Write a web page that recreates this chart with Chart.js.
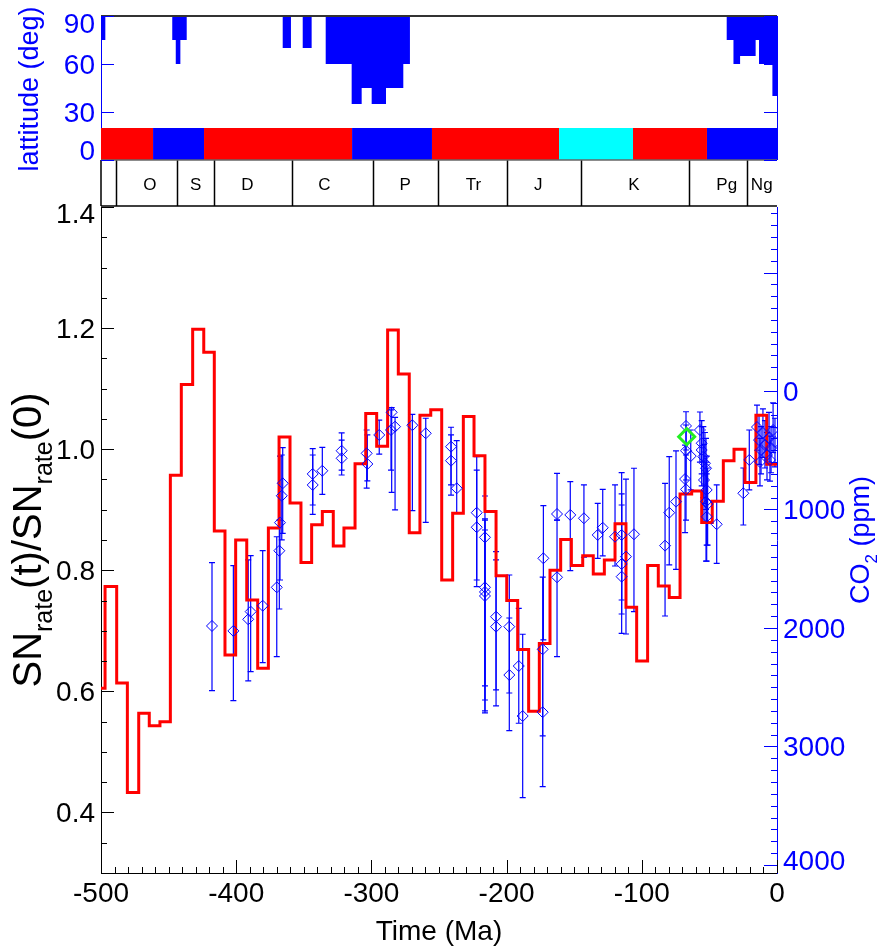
<!DOCTYPE html>
<html>
<head>
<meta charset="utf-8">
<title>SN rate and CO2</title>
<script src="https://cdn.jsdelivr.net/npm/chart.js@4.4.1/dist/chart.umd.min.js"></script>
<style>
  html, body { margin: 0; padding: 0; background: #fff; }
  #wrap { position: relative; width: 887px; height: 949px; overflow: hidden; }
  #mainChart { position: absolute; left: 0; top: 0; }
  #latChart { position: absolute; left: 0; top: -10px; }
</style>
</head>
<body>
<div id="wrap">
  <canvas id="mainChart" width="887" height="949"></canvas>
  <canvas id="latChart" width="887" height="217"></canvas>
</div>
<script>
// ---- data ----

// supernova rate ratio, step function (value holds from each time until the next)
const snTime = [-500, -497, -488.4, -480.5, -472.1, -464.3, -456.4, -448.7, -440.6, -432.2,
  -424.0, -416.2, -408.3, -400.4, -392.2, -384.1, -376.2, -368.3, -360.2, -352.1,
  -344.2, -336.3, -328.2, -320.3, -312.1, -304.2, -296.1, -288.0, -280.1, -272.0,
  -264.1, -256.1, -248.0, -239.9, -232.0, -224.1, -216.0, -207.8, -199.9, -191.8,
  -183.7, -175.8, -167.9, -160.0, -152.1, -143.7, -135.9, -127.7, -119.8, -111.7,
  -103.8, -95.7, -87.8, -79.7, -71.7, -63.1, -55.7, -47.9, -39.7, -31.8,
  -23.7, -15.6, -7.6, 0];
const snRate = [0.605, 0.773, 0.614, 0.433, 0.564, 0.543, 0.550, 0.957, 1.107, 1.198,
  1.160, 0.865, 0.660, 0.850, 0.751, 0.638, 0.870, 1.020, 0.911, 0.813,
  0.875, 0.897, 0.840, 0.870, 0.976, 1.059, 1.005, 1.197, 1.124, 0.862,
  1.056, 1.065, 0.784, 0.894, 1.054, 0.989, 0.897, 0.791, 0.750, 0.669,
  0.567, 0.679, 0.800, 0.851, 0.808, 0.824, 0.794, 0.817, 0.877, 0.739,
  0.650, 0.808, 0.774, 0.755, 0.926, 0.931, 0.879, 0.914, 0.981, 1.000,
  0.945, 1.056, 0.975, 0.975];

// CO2 proxy points (ppm) with error ranges
const co2Time = [-417.9, -402.1, -391.1, -389.3, -380.4, -370.0, -368.1, -367.6, -366.3, -365.6,
  -343.4, -343.4, -336.3, -322.0, -322.0, -303.5, -303.0, -294.2, -285.0, -285.5,
  -282.5, -269.7, -259.8, -241.1, -241.1, -236.9, -222.1, -222.1, -216.0, -216.0,
  -216.0, -216.0, -207.8, -207.8, -198.0, -198.0, -191.0, -188.1, -172.8, -173.3,
  -173.3, -162.7, -162.7, -152.9, -142.8, -132.6, -128.9, -119.8, -114.9, -114.9,
  -114.9, -111.7, -105.8, -82.8, -79.7, -74.7, -67.3, -67.3, -68.0, -67.3,
  -63.8, -57.0, -55.7, -54.5, -52.5, -54.0, -52.0, -52.5, -52.0, -55.7,
  -53.3, -51.3, -44.6, -24.9, -20.5, -14.8, -13.3, -11.8, -10.4, -8.9,
  -7.4, -5.9, -4.4, -2.9, -1.5, -5.2, -12.6];
const co2Value = [1983, 2025, 1927, 1862, 1812, 1657, 1348, 1111, 884, 779,
  700, 793, 673, 504, 568, 526, 616, 371, 180, 329,
  301, 289, 357, 470, 588, 821, 1027, 1150, 1235, 1657,
  1696, 1730, 1905, 1989, 1989, 2397, 2321, 2743, 1412, 2180,
  2711, 1038, 1572, 1046, 1074, 1215, 1154, 1230, 1215, 1460,
  1567, 1398, 1209, 1305, 1027, 934, 295, 504, 743, 830,
  549, 329, 441, 554, 652, 751, 835, 934, 1061, 498,
  610, 954, 1125, 863, 582, 304, 414, 498, 354, 456,
  540, 397, 481, 329, 430, 582, 599];
const co2Low = [1449, 1474, 1426, 1390, 1348, 1230, 1089, 549, 540, 478,
  487, 540, 475, 354, 414, 329, 371, 245, 141, 160,
  222, 197, 230, 306, 371, 419, 554, 667, 886, 1080,
  1173, 1089, 1356, 1426, 1553, 1916, 1834, 2053, 968, 1570,
  2127, 695, 1089, 765, 793, 948, 830, 793, 689, 869,
  962, 743, 652, 779, 554, 506, 175, 287, 456, 540,
  329, 177, 250, 300, 400, 450, 550, 600, 700, 300,
  350, 650, 793, 650, 329, 120, 200, 300, 150, 250,
  350, 180, 300, 100, 230, 380, 400];
const co2High = [2529, 2614, 2447, 2369, 2293, 2242, 1840, 1595, 1257, 1201,
  1041, 962, 872, 709, 667, 819, 759, 532, 855, 667,
  1004, 1010, 1108, 878, 793, 1032, 1651, 1595, 2717, 2489,
  2700, 2608, 2658, 2523, 2867, 2549, 2804, 3432, 2101, 2911,
  3339, 1089, 2242, 1516, 1403, 1412, 1392, 1477, 1764, 1882,
  2045, 2051, 1862, 1899, 1468, 1505, 498, 751, 1196, 1089,
  835, 600, 700, 900, 1000, 1100, 1300, 1435, 1435, 800,
  950, 1300, 1454, 1131, 835, 500, 620, 700, 560, 650,
  750, 600, 690, 520, 640, 760, 800];
const greenTime = [-66.8];
const greenCo2 = [386];

// polar ice extent: latitude reached, held from each time until the next (90 = none)
const iceTime = [-500, -496.8, -447.3, -444.7, -441.3, -436.6, -365.6, -359.5, -350.8, -344.2,
  -333.8, -314.6, -307.2, -299.8, -289.2, -276.4, -271.5, -37.2, -32.2, -27.3,
  -15.8, -13.3, -3.4, 0];
const iceLat = [75, 90, 75, 60, 75, 90, 70, 90, 70, 90,
  60, 35, 45, 35, 45, 60, 90, 75, 60, 65,
  75, 60, 40, 40];

// climate mode bar
const climateEdges = [-500, -461.5, -423.8, -314.3, -255.2, -161.2, -106.5, -51.8, 0];
const climateColors = ['#ff0000', '#0000ff', '#ff0000', '#0000ff', '#ff0000', '#00ffff', '#ff0000', '#0000ff'];

// geological periods
const periodEdges = [-500, -488.9, -444.0, -416.2, -359.0, -299.1, -251.0, -199.5, -145.0, -65.1, -22.4, 0];
const periodNames = ['', 'O', 'S', 'D', 'C', 'P', 'Tr', 'J', 'K', 'Pg', 'Ng'];
const periodLabelAt = [null, -463.8, -430, -391.8, -334.8, -275.1, -224.6, -176.5, -105.8, -37.2, -11.3];

// tick labels
const timeTicks = [-500, -400, -300, -200, -100, 0];
const snTicks = [0.4, 0.6, 0.8, 1.0, 1.2, 1.4];
const co2Ticks = [0, 1000, 2000, 3000, 4000];
const latTicks = [0, 30, 60, 90];

const FONT = "'Liberation Sans', Arial, Helvetica, sans-serif";
const BLUE = '#0000ff';

function range(a, b, step) {
  const out = [];
  for (let v = a; v <= b + 1e-9; v += step) out.push(Math.round(v * 1000) / 1000);
  return out;
}

function drawRichRotated(ctx, parts, cx, cy, color, size, subSize) {
  ctx.save();
  ctx.translate(cx, cy);
  ctx.rotate(-Math.PI / 2);
  ctx.fillStyle = color;
  ctx.textBaseline = 'middle';
  ctx.textAlign = 'left';
  let total = 0;
  parts.forEach(p => {
    ctx.font = (p.sub ? subSize : size) + 'px ' + FONT;
    p.w = ctx.measureText(p.t).width;
    total += p.w;
  });
  let x = -total / 2;
  parts.forEach(p => {
    ctx.font = (p.sub ? subSize : size) + 'px ' + FONT;
    ctx.fillText(p.t, x, p.sub ? size * 0.38 : 0);
    x += p.w;
  });
  ctx.restore();
}

// y tick labels, kept inside the axis span like the original
function drawYLabels(ctx, scale, values, fmt, x, align, color, lo, hi) {
  ctx.save();
  ctx.fillStyle = color;
  ctx.font = '28px ' + FONT;
  ctx.textAlign = align;
  ctx.textBaseline = 'middle';
  values.forEach(v => {
    const y = Math.min(Math.max(scale.getPixelForValue(v) + 2, lo), hi);
    ctx.fillText(fmt(v), x, y);
  });
  ctx.restore();
}

// error bars, inward ticks and axis titles for the main panel
const mainDecor = {
  id: 'mainDecor',
  beforeDatasetsDraw(chart) {
    const { ctx, chartArea, scales } = chart;
    ctx.save();
    ctx.beginPath();
    ctx.rect(chartArea.left, chartArea.top, chartArea.right - chartArea.left, chartArea.bottom - chartArea.top);
    ctx.clip();
    ctx.strokeStyle = BLUE;
    ctx.lineWidth = 1.2;
    co2Time.forEach((t, i) => {
      const x = scales.x.getPixelForValue(t);
      const yLo = scales.y2.getPixelForValue(co2Low[i]);
      const yHi = scales.y2.getPixelForValue(co2High[i]);
      ctx.beginPath();
      ctx.moveTo(x, yLo); ctx.lineTo(x, yHi);
      ctx.moveTo(x - 3, yLo); ctx.lineTo(x + 3, yLo);
      ctx.moveTo(x - 3, yHi); ctx.lineTo(x + 3, yHi);
      ctx.stroke();
    });
    ctx.restore();
  },
  afterDraw(chart) {
    const { ctx, chartArea, scales } = chart;
    ctx.save();
    ctx.lineWidth = 1;
    // x ticks
    ctx.strokeStyle = '#000';
    range(-500, 0, 10).forEach(v => {
      const x = Math.round(scales.x.getPixelForValue(v)) + 0.5;
      const len = v % 100 === 0 ? 13 : 6;
      ctx.beginPath(); ctx.moveTo(x, chartArea.bottom); ctx.lineTo(x, chartArea.bottom - len); ctx.stroke();
    });
    // left y ticks
    range(0.3, 1.4, 0.05).forEach(v => {
      const y = Math.round(scales.y.getPixelForValue(v)) + 0.5;
      const major = Math.abs(Math.round(v * 100) % 20) === 0;
      ctx.beginPath(); ctx.moveTo(chartArea.left, y); ctx.lineTo(chartArea.left + (major ? 13 : 6), y); ctx.stroke();
    });
    // right CO2 ticks
    ctx.strokeStyle = BLUE;
    range(-1500, 4000, 100).forEach(v => {
      const y = Math.round(scales.y2.getPixelForValue(v)) + 0.5;
      const len = v % 1000 === 0 ? 13 : 6;
      ctx.beginPath(); ctx.moveTo(chartArea.right, y); ctx.lineTo(chartArea.right - len, y); ctx.stroke();
    });
    ctx.restore();

    drawYLabels(ctx, scales.y, snTicks, v => v.toFixed(1), chartArea.left - 6, 'right', '#000',
      chartArea.top + 8, chartArea.bottom - 10);
    drawYLabels(ctx, scales.y2, co2Ticks, v => String(v), chartArea.right + 6, 'left', BLUE,
      chartArea.top + 8, chartArea.bottom - 11);

    // titles
    ctx.save();
    ctx.fillStyle = '#000';
    ctx.font = '28px ' + FONT;
    ctx.textAlign = 'center';
    ctx.textBaseline = 'middle';
    ctx.fillText('Time (Ma)', (chartArea.left + chartArea.right) / 2, 932);
    ctx.restore();
    drawRichRotated(ctx, [
      { t: 'SN' }, { t: 'rate', sub: true }, { t: '(t)/SN' }, { t: 'rate', sub: true }, { t: '(0)' }
    ], 30, 540, '#000', 40, 25);
    drawRichRotated(ctx, [
      { t: 'CO' }, { t: '2', sub: true }, { t: ' (ppm)' }
    ], 862, 540, BLUE, 27, 17);
  }
};

// period strip, ticks and title for the latitude panel
const latDecor = {
  id: 'latDecor',
  afterDraw(chart) {
    const { ctx, chartArea, scales } = chart;
    const top = chartArea.bottom, bottom = chartArea.bottom + 46;
    ctx.save();
    // strip frame
    ctx.strokeStyle = '#000';
    ctx.lineWidth = 1.5;
    ctx.beginPath();
    ctx.moveTo(chartArea.left, bottom); ctx.lineTo(chartArea.right, bottom);
    ctx.moveTo(chartArea.left, top); ctx.lineTo(chartArea.left, bottom);
    periodEdges.slice(1, -1).forEach(t => {
      const x = Math.round(scales.x.getPixelForValue(t)) + 0.5;
      ctx.moveTo(x, top); ctx.lineTo(x, bottom);
    });
    ctx.stroke();
    ctx.strokeStyle = '#666';
    ctx.lineWidth = 1.5;
    ctx.beginPath(); ctx.moveTo(chartArea.left, top); ctx.lineTo(chartArea.right, top); ctx.stroke();
    ctx.fillStyle = '#000';
    ctx.font = '17px ' + FONT;
    ctx.textAlign = 'center';
    ctx.textBaseline = 'middle';
    periodNames.forEach((n, i) => {
      if (!n) return;
      ctx.fillText(n, scales.x.getPixelForValue(periodLabelAt[i]), top + 25);
    });
    // top frame line
    ctx.strokeStyle = '#333';
    ctx.lineWidth = 2;
    ctx.beginPath(); ctx.moveTo(chartArea.left, chartArea.top); ctx.lineTo(chartArea.right, chartArea.top); ctx.stroke();
    // right blue axis and latitude ticks
    ctx.strokeStyle = BLUE;
    ctx.lineWidth = 1;
    ctx.beginPath(); ctx.moveTo(chartArea.right + 0.5, chartArea.top); ctx.lineTo(chartArea.right + 0.5, chartArea.bottom); ctx.stroke();
    latTicks.forEach(v => {
      const y = Math.round(scales.y.getPixelForValue(v)) + 0.5;
      ctx.beginPath();
      ctx.moveTo(chartArea.left, y); ctx.lineTo(chartArea.left + 13, y);
      ctx.moveTo(chartArea.right, y); ctx.lineTo(chartArea.right - 13, y);
      ctx.stroke();
    });
    ctx.restore();
    drawYLabels(ctx, scales.y, latTicks, v => String(v), chartArea.left - 6, 'right', BLUE,
      chartArea.top + 9, chartArea.bottom - 8);
    drawRichRotated(ctx, [{ t: 'lattitude (deg)' }], 31, 99, BLUE, 27, 17);
  }
};

// ---- main panel ----
const snPoints = snTime.map((t, i) => ({ x: t, y: snRate[i] }));
const co2Points = co2Time.map((t, i) => ({ x: t, y: co2Value[i] }));
const greenPoints = greenTime.map((t, i) => ({ x: t, y: greenCo2[i] }));

new Chart(document.getElementById('mainChart'), {
  type: 'line',
  data: {
    datasets: [
      {
        data: greenPoints, yAxisID: 'y2', showLine: false,
        pointStyle: 'rectRot', pointRadius: 8, pointBorderWidth: 3,
        pointBorderColor: '#22ee22', pointBackgroundColor: 'rgba(0,0,0,0)'
      },
      {
        data: co2Points, yAxisID: 'y2', showLine: false,
        pointStyle: 'rectRot', pointRadius: 5.5, pointBorderWidth: 1,
        pointBorderColor: BLUE, pointBackgroundColor: 'rgba(0,0,0,0)'
      },
      {
        data: snPoints, yAxisID: 'y', stepped: true,
        borderColor: '#ff0000', borderWidth: 3, pointRadius: 0, fill: false
      }
    ]
  },
  options: {
    responsive: false,
    animation: false,
    devicePixelRatio: 1,
    events: [],
    layout: { padding: { top: 207, left: 0, right: 0, bottom: 0 } },
    plugins: { legend: { display: false }, tooltip: { enabled: false } },
    scales: {
      x: {
        type: 'linear', position: 'bottom', min: -500, max: 0,
        afterBuildTicks: s => { s.ticks = timeTicks.map(v => ({ value: v })); },
        afterFit: s => { s.height = 76; },
        grid: { display: false, drawTicks: false },
        border: { display: true, color: '#000', width: 1 },
        ticks: { color: '#000', font: { family: FONT, size: 28 }, padding: 4, maxRotation: 0, autoSkip: false }
      },
      y: {
        position: 'left', min: 0.3, max: 1.4,
        afterBuildTicks: s => { s.ticks = snTicks.map(v => ({ value: v })); },
        afterFit: s => { s.width = 101; },
        grid: { display: false, drawTicks: false },
        border: { display: true, color: '#000', width: 1 },
        ticks: { display: false }
      },
      y2: {
        position: 'right', reverse: true, min: -1553, max: 4068,
        afterBuildTicks: s => { s.ticks = co2Ticks.map(v => ({ value: v })); },
        afterFit: s => { s.width = 110; },
        grid: { display: false, drawTicks: false },
        border: { display: true, color: BLUE, width: 1 },
        ticks: { display: false }
      }
    }
  },
  plugins: [mainDecor]
});

// ---- latitude panel ----
const latDatasets = [{
  data: iceTime.map((t, i) => ({ x: t, y: iceLat[i] })),
  stepped: true, fill: 'end', backgroundColor: BLUE,
  borderColor: 'rgba(0,0,0,0)', borderWidth: 0, pointRadius: 0
}];
climateColors.forEach((c, i) => {
  latDatasets.push({
    data: [{ x: climateEdges[i], y: 20 }, { x: climateEdges[i + 1], y: 20 }],
    fill: 'origin', backgroundColor: c,
    borderColor: 'rgba(0,0,0,0)', borderWidth: 0, pointRadius: 0
  });
});

new Chart(document.getElementById('latChart'), {
  type: 'line',
  data: { datasets: latDatasets },
  options: {
    responsive: false,
    animation: false,
    devicePixelRatio: 1,
    events: [],
    layout: { padding: { top: 26, left: 0, right: 110, bottom: 47 } },
    plugins: { legend: { display: false }, tooltip: { enabled: false } },
    scales: {
      x: { type: 'linear', min: -500, max: 0, display: false },
      y: {
        position: 'left', min: 0, max: 90,
        afterBuildTicks: s => { s.ticks = latTicks.map(v => ({ value: v })); },
        afterFit: s => { s.width = 101; },
        grid: { display: false, drawTicks: false },
        border: { display: true, color: BLUE, width: 1 },
        ticks: { display: false }
      }
    }
  },
  plugins: [latDecor]
});
</script>
</body>
</html>
